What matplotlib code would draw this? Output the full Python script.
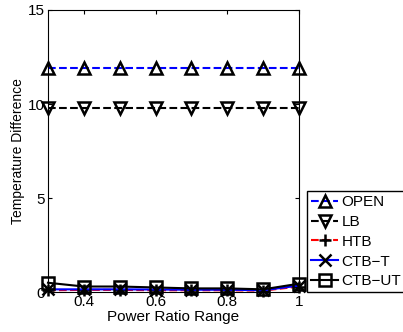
import matplotlib.pyplot as plt

plt.rcParams['font.family'] = ['Liberation Sans', 'DejaVu Sans']

# power ratio points
x = [0.3, 0.4, 0.5, 0.6, 0.7, 0.8, 0.9, 1.0]

open_vals = [11.9, 11.9, 11.9, 11.9, 11.9, 11.9, 11.9, 11.9]
lb_vals = [9.8, 9.8, 9.8, 9.8, 9.8, 9.8, 9.8, 9.8]
htb_vals = [0.1, 0.12, 0.12, 0.1, 0.1, 0.1, 0.08, 0.3]
ctbt_vals = [0.15, 0.15, 0.15, 0.14, 0.13, 0.13, 0.1, 0.35]
ctbut_vals = [0.5, 0.3, 0.3, 0.25, 0.2, 0.2, 0.15, 0.45]

fig = plt.figure(figsize=(4.03, 3.32), dpi=100)
ax = fig.add_axes([0.119, 0.12, 0.623, 0.85])

mk = dict(markerfacecolor='none', markeredgecolor='k', markeredgewidth=1.8,
          markersize=9, clip_on=False)
ax.plot(x, open_vals, '--', color='b', marker='^', lw=1.5, label='OPEN', **mk)
ax.plot(x, lb_vals, '--', color='k', marker='v', lw=1.5, label='LB', **mk)
ax.plot(x, htb_vals, '--', color='r', marker='+', lw=1.5, label='HTB', **mk)
ax.plot(x, ctbt_vals, '-', color='b', marker='x', lw=1.5, label='CTB\u2212T', **mk)
ax.plot(x, ctbut_vals, '-', color='k', marker='s', lw=1.5, label='CTB\u2212UT', **mk)

ax.set_xlim(0.3, 1.0)
ax.set_ylim(0, 15)
ax.set_xticks([0.4, 0.6, 0.8, 1.0])
ax.set_xticklabels(['0.4', '0.6', '0.8', '1'])
ax.set_yticks([0, 5, 10, 15])
ax.tick_params(direction='in', top=True, right=True, labelsize=11, length=3, pad=2)
ax.set_xlabel('Power Ratio Range', fontsize=11, labelpad=1)
ax.set_ylabel('Temperature Difference', fontsize=10, labelpad=2)

fig.legend(loc='lower left', bbox_to_anchor=(0.762, 0.12), fontsize=11,
           handlelength=1.8, handletextpad=0.2, borderpad=0.25, labelspacing=0.38,
           markerscale=0.9, fancybox=False, edgecolor='k', framealpha=1,
           borderaxespad=0)

fig.savefig('out.png', dpi=100)
